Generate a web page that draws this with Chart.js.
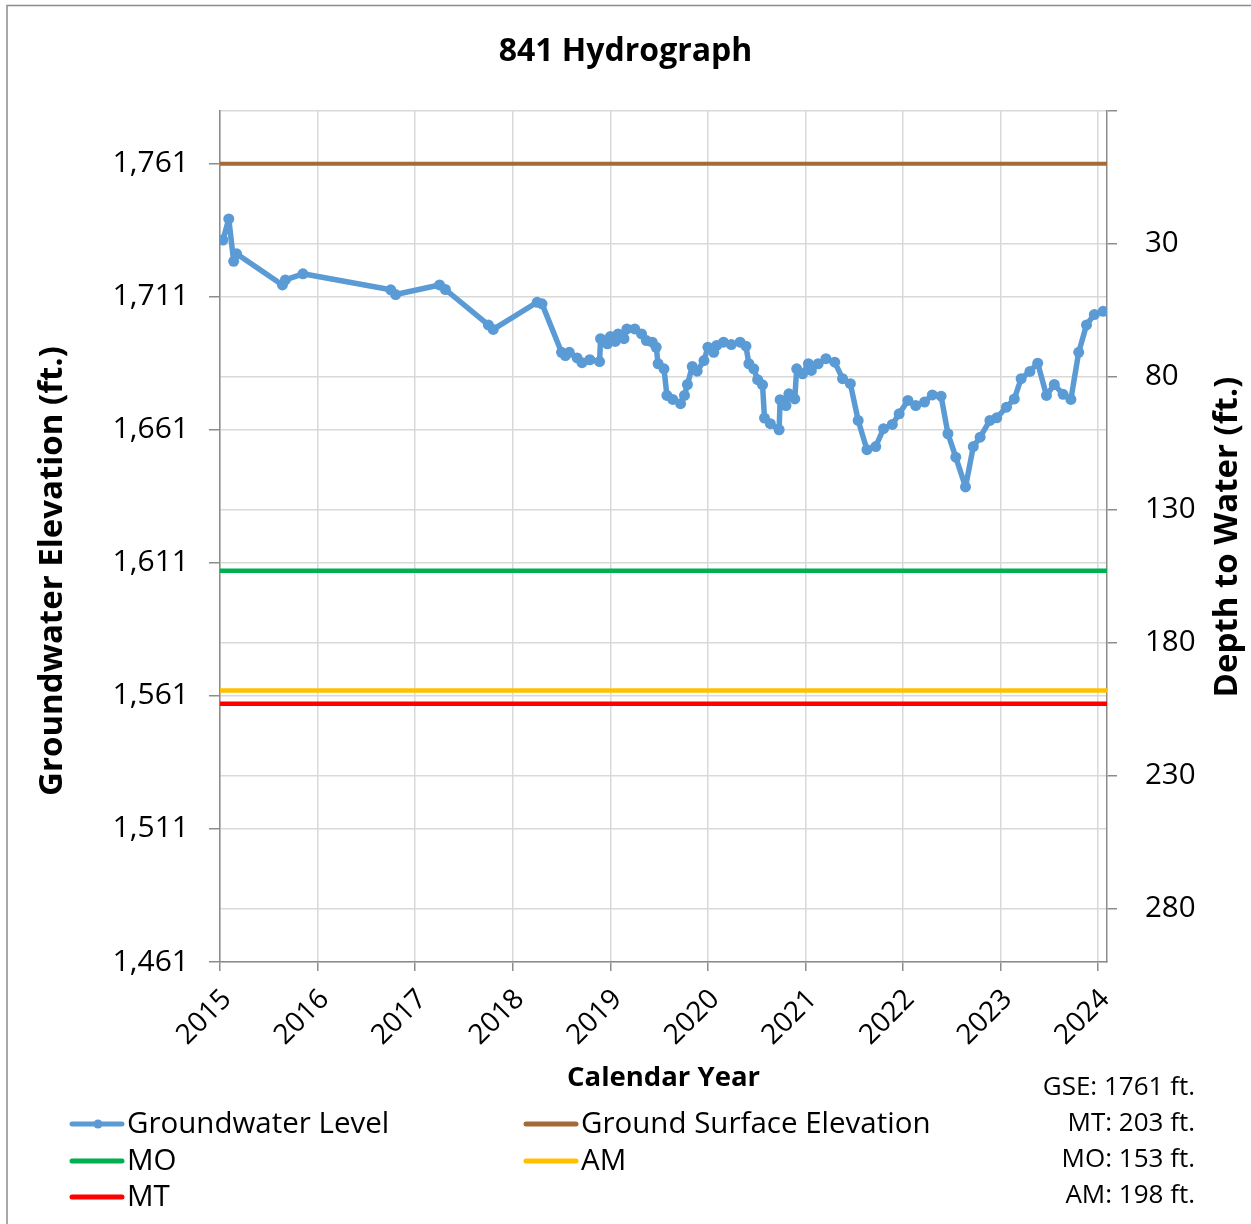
<!DOCTYPE html>
<html><head><meta charset="utf-8">
<script src="https://cdn.jsdelivr.net/npm/chart.js@4.4.1/dist/chart.umd.min.js"></script>
<style>html,body{margin:0;padding:0;background:#fff}canvas{display:block}</style>
</head><body>
<canvas id="c" width="1251" height="1224"></canvas>
<script>
const chartTitle = '841 Hydrograph';
const xTitle = 'Calendar Year';
const yLeftTitle = 'Groundwater Elevation (ft.)';
const yRightTitle = 'Depth to Water (ft.)';

const sampleDates = [2015.03,2015.09,2015.14,2015.17,2015.64,2015.67,2015.85,2016.75,2016.80,2017.25,2017.31,2017.75,2017.80,
2018.25,2018.30,2018.50,2018.54,2018.58,2018.66,2018.71,2018.79,2018.89,2018.90,2018.97,2019.00,2019.05,2019.08,2019.14,2019.17,
2019.25,2019.32,2019.37,2019.43,2019.47,2019.49,2019.55,2019.58,2019.64,2019.72,2019.76,2019.79,2019.84,2019.89,2019.96,2020.00,
2020.06,2020.09,2020.16,2020.24,2020.33,2020.39,2020.42,2020.47,2020.51,2020.56,2020.58,2020.64,2020.73,2020.74,2020.80,2020.83,
2020.89,2020.91,2020.97,2021.03,2021.06,2021.13,2021.21,2021.30,2021.38,2021.46,2021.54,2021.63,2021.72,2021.80,2021.89,2021.96,
2022.05,2022.13,2022.22,2022.30,2022.39,2022.46,2022.54,2022.64,2022.72,2022.79,2022.89,2022.96,2023.06,2023.14,2023.21,2023.30,
2023.38,2023.47,2023.55,2023.64,2023.72,2023.80,2023.88,2023.96,2024.05];
const groundwaterLevel = [1732.3,1740.2,1724.3,1727.1,1715.4,1717.3,1719.6,1713.6,1711.8,1715.4,1713.7,1700.4,1698.7,
1708.9,1708.3,1690.1,1688.9,1690.1,1688.0,1686.2,1687.3,1686.6,1695.2,1693.3,1696.0,1694.2,1697.0,1695.2,1698.9,
1698.9,1697.0,1694.5,1693.9,1692.0,1685.8,1683.9,1673.9,1672.4,1670.8,1673.9,1678.0,1684.8,1683.0,1687.0,1692.0,
1690.1,1692.7,1693.9,1693.0,1693.9,1692.4,1685.8,1683.9,1679.8,1677.9,1665.4,1663.3,1661.0,1672.3,1670.1,1674.5,
1672.6,1683.9,1682.0,1685.8,1683.3,1685.8,1687.7,1686.4,1680.2,1678.3,1664.5,1653.5,1654.7,1661.4,1663.0,1667.0,
1672.0,1670.1,1671.4,1674.1,1673.6,1659.5,1650.7,1639.5,1654.7,1658.2,1664.5,1665.5,1669.5,1672.6,1680.2,1682.9,
1686.0,1673.9,1678.0,1674.3,1672.4,1690.1,1700.4,1704.3,1705.5];

const gseElevation = 1761;
const mtDepth = 203;
const moDepth = 153;
const amDepth = 198;

const xTicks = [2015,2016,2017,2018,2019,2020,2021,2022,2023,2024];
const leftTicks = [1461,1511,1561,1611,1661,1711,1761];
const rightTicks = [-20,30,80,130,180,230,280];
const xRange = [2015, 2024.09];
const leftRange = [1461, 1781];

const FONT = '"Open Sans", "Noto Sans", sans-serif';
const AXIS = '#8c8c8c';
const GRID = '#d9d9d9';

const flat = v => [{x:xRange[0], y:v},{x:xRange[1], y:v}];

const legendSlots = [[0,0],[1,0],[0,1],[1,1],[0,2]];
const legendColX = [72, 526];
const legendRowY = [1124, 1161, 1197];
const statsLines = ['GSE: ' + gseElevation + ' ft.', 'MT: ' + mtDepth + ' ft.', 'MO: ' + moDepth + ' ft.', 'AM: ' + amDepth + ' ft.'];

const decor = {
  id: 'decor',
  beforeDraw(chart) {
    const ctx = chart.ctx;
    ctx.save();
    ctx.strokeStyle = '#8c8c8c';
    ctx.lineWidth = 1.5;
    ctx.beginPath();
    ctx.moveTo(7, 1224); ctx.lineTo(7, 5.5); ctx.lineTo(1251, 5.5);
    ctx.stroke();
    ctx.restore();
  },
  afterDraw(chart) {
    const ctx = chart.ctx;
    ctx.save();
    ctx.fillStyle = '#000';
    ctx.font = 'bold 33px ' + FONT;
    ctx.textAlign = 'center';
    ctx.textBaseline = 'middle';
    ctx.save(); ctx.translate(53, 571); ctx.rotate(-Math.PI/2); ctx.fillText(yLeftTitle, 0, 0); ctx.restore();
    ctx.save(); ctx.translate(1228, 537); ctx.rotate(-Math.PI/2); ctx.fillText(yRightTitle, 0, 0); ctx.restore();
    ctx.font = '29.5px ' + FONT;
    ctx.textAlign = 'left';
    chart.data.datasets.forEach((ds, i) => {
      const [c, r] = legendSlots[i];
      const x0 = legendColX[c], y = legendRowY[r];
      ctx.strokeStyle = ds.borderColor;
      ctx.lineWidth = 5;
      ctx.lineCap = 'round';
      ctx.beginPath(); ctx.moveTo(x0, y); ctx.lineTo(x0 + 50, y); ctx.stroke();
      if (ds.pointRadius > 0) {
        ctx.fillStyle = ds.borderColor;
        ctx.beginPath(); ctx.arc(x0 + 26, y, 4.5, 0, Math.PI*2); ctx.fill();
      }
      ctx.fillStyle = '#000';
      ctx.fillText(ds.label, x0 + 55, y + 1);
    });
    ctx.font = '26px ' + FONT;
    ctx.textAlign = 'right';
    statsLines.forEach((t, i) => ctx.fillText(t, 1195, 1088 + 36*i));
    ctx.restore();
  }
};

new Chart(document.getElementById('c'), {
  type: 'line',
  data: {
    datasets: [
      { label: 'Groundwater Level', data: sampleDates.map((d,i)=>({x:d, y:groundwaterLevel[i]})),
        borderColor: '#5B9BD5', backgroundColor: '#5B9BD5', borderWidth: 5.5, pointRadius: 5.5,
        pointBorderWidth: 0, pointBackgroundColor: '#5B9BD5', tension: 0, borderJoinStyle: 'round',
        borderCapStyle: 'round', yAxisID: 'y' },
      { label: 'Ground Surface Elevation', data: flat(gseElevation), borderColor: '#A46A38',
        borderWidth: 4, pointRadius: 0, yAxisID: 'y' },
      { label: 'MO', data: flat(gseElevation - moDepth), borderColor: '#00B050', borderWidth: 4.5, pointRadius: 0, yAxisID: 'y' },
      { label: 'AM', data: flat(gseElevation - amDepth), borderColor: '#FFC000', borderWidth: 4.5, pointRadius: 0, yAxisID: 'y' },
      { label: 'MT', data: flat(gseElevation - mtDepth), borderColor: '#FF0000', borderWidth: 4.5, pointRadius: 0, yAxisID: 'y' }
    ]
  },
  options: {
    responsive: false,
    animation: false,
    layout: { padding: { left: 0, right: 0, top: 0, bottom: 129 } },
    plugins: {
      legend: { display: false },
      tooltip: { enabled: false },
      title: { display: true, text: chartTitle, color: '#000', font: { family: FONT, size: 32, weight: 'bold', lineHeight: 1.2 },
               padding: { top: 33, bottom: 39 } }
    },
    scales: {
      x: {
        type: 'linear', min: xRange[0], max: xRange[1],
        afterBuildTicks: s => { s.ticks = xTicks.map(v => ({ value: v })); },
        afterFit: s => { s.height = 133; },
        ticks: { color: '#000', font: { family: FONT, size: 28 }, maxRotation: 45, minRotation: 45, padding: 12,
                 labelOffset: 7, callback: v => String(v) },
        grid: { color: GRID, lineWidth: 1.5, tickLength: 9, tickColor: AXIS },
        border: { color: AXIS, width: 1.5 },
        title: { display: true, text: xTitle, color: '#000', font: { family: FONT, size: 27.5, weight: 'bold' }, padding: 0 }
      },
      y: {
        position: 'left', min: leftRange[0], max: leftRange[1],
        afterBuildTicks: s => { s.ticks = leftTicks.map(v => ({ value: v })); },
        afterFit: s => { s.width = 220; },
        ticks: { color: '#000', font: { family: FONT, size: 30 }, padding: 20,
                 callback: v => v.toLocaleString('en-US') },
        grid: { color: GRID, lineWidth: 1.5, tickLength: 11, tickColor: AXIS },
        border: { color: AXIS, width: 1.5 }
      },
      y2: {
        position: 'right', reverse: true, min: gseElevation - leftRange[1], max: gseElevation - leftRange[0],
        afterBuildTicks: s => { s.ticks = rightTicks.map(v => ({ value: v })); },
        afterFit: s => { s.width = 144; },
        ticks: { color: '#000', font: { family: FONT, size: 29.5 }, padding: 28,
                 callback: v => v < 0 ? '' : String(v) },
        grid: { color: GRID, lineWidth: 1.5, tickLength: 10, tickColor: AXIS },
        border: { color: AXIS, width: 1.5 }
      }
    }
  },
  plugins: [decor]
});
</script>
</body></html>
